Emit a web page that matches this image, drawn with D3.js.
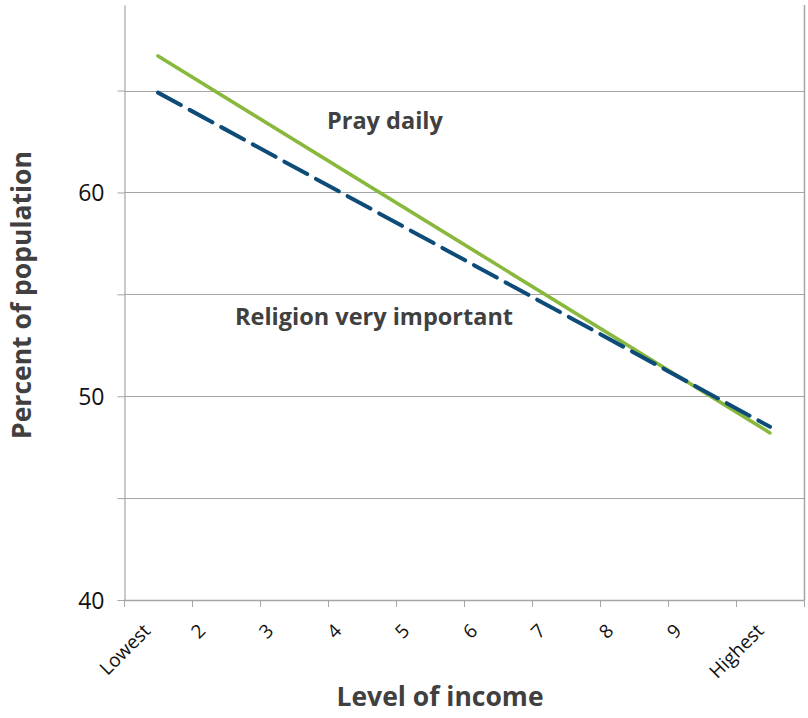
<!DOCTYPE html>
<html>
<head>
<meta charset="utf-8">
<script src="https://cdn.jsdelivr.net/npm/d3@7"></script>
<style>
  html, body { margin: 0; padding: 0; background: #ffffff; }
  svg { display: block; font-family: "Open Sans", "Noto Sans", sans-serif; }
</style>
</head>
<body>
<svg id="chart" width="808" height="718"></svg>
<script>
// Income deciles along the horizontal axis
const incomeLevels = ["Lowest", "2", "3", "4", "5", "6", "7", "8", "9", "Highest"];

// Linear trends, given at the two ends of the income scale (percent)
const trendEnds = ["Lowest", "Highest"];
const prayDaily = [66.7, 48.2];
const religionVeryImportant = [64.9, 48.5];

// Vertical axis: grid every 5 points, labels every 10
const gridValues = [40, 45, 50, 55, 60, 65];
const yTickLabels = [40, 50, 60];

const W = 808, H = 718;
const plot = { left: 124, right: 804, top: 5, bottom: 600 };

const svg = d3.select("#chart");
svg.append("rect").attr("width", W).attr("height", H).attr("fill", "#ffffff");

const x = d3.scaleBand().domain(incomeLevels).range([plot.left, plot.right]);
const cx = d => x(d) + x.bandwidth() / 2;
const y = d3.scaleLinear().domain([40, 69.2]).range([plot.bottom, plot.top]);

const gridColor = "#a5a5a5";

// Horizontal gridlines
svg.append("g")
  .selectAll("line")
  .data(gridValues.filter(v => v > 40))
  .join("line")
  .attr("x1", plot.left).attr("x2", plot.right)
  .attr("y1", d => Math.round(y(d)) + 0.5).attr("y2", d => Math.round(y(d)) + 0.5)
  .attr("stroke", gridColor).attr("stroke-width", 1);

// Right frame edge
svg.append("line")
  .attr("x1", plot.right + 0.5).attr("x2", plot.right + 0.5)
  .attr("y1", plot.top).attr("y2", plot.bottom)
  .attr("stroke", gridColor).attr("stroke-width", 1.5);

// Left axis
const yAxis = d3.axisLeft(y)
  .tickValues(gridValues)
  .tickSizeInner(7)
  .tickSizeOuter(0)
  .tickPadding(13)
  .tickFormat(d => yTickLabels.includes(d) ? String(d) : "");

const gy = svg.append("g")
  .attr("transform", `translate(${plot.left + 0.5},0)`)
  .call(yAxis);
gy.select(".domain").attr("stroke", gridColor).attr("stroke-width", 1.2);
gy.selectAll(".tick line").attr("stroke", gridColor);
gy.selectAll(".tick text")
  .attr("font-size", 23)
  .attr("fill", "#111111")
  .attr("font-family", "'Open Sans', sans-serif")
  .attr("dy", "0.36em");

// Bottom axis: baseline and ticks at the category boundaries
const gx = svg.append("g");
gx.append("line")
  .attr("x1", plot.left).attr("x2", plot.right)
  .attr("y1", plot.bottom + 0.5).attr("y2", plot.bottom + 0.5)
  .attr("stroke", gridColor).attr("stroke-width", 1.5);

const boundaries = incomeLevels.map(d => x(d)).concat([x.range()[1]]);
gx.selectAll("line.tick")
  .data(boundaries)
  .join("line")
  .attr("class", "tick")
  .attr("x1", d => Math.round(d) + 0.5).attr("x2", d => Math.round(d) + 0.5)
  .attr("y1", plot.bottom).attr("y2", plot.bottom + 7)
  .attr("stroke", gridColor).attr("stroke-width", 1);

// Slanted category labels
const labels = gx.selectAll("text.cat")
  .data(incomeLevels)
  .join("text")
  .attr("class", "cat")
  .attr("font-size", 19)
  .attr("fill", "#111111")
  .attr("text-anchor", "end")
  .text(d => d);

labels.each(function(d) {
  const len = this.getComputedTextLength();
  const ax = cx(d) - 22 + 0.25 * len;
  const ay = plot.bottom + 32;
  d3.select(this).attr("transform", `translate(${ax},${ay}) rotate(-45)`);
});

// Trend lines
const line = d3.line()
  .x(d => cx(d.level))
  .y(d => y(d.value));

const pairs = vals => trendEnds.map((lvl, i) => ({ level: lvl, value: vals[i] }));

svg.append("path")
  .datum(pairs(prayDaily))
  .attr("d", line)
  .attr("fill", "none")
  .attr("stroke", "#88b83c")
  .attr("stroke-width", 3.6)
  .attr("stroke-linecap", "round");

svg.append("path")
  .datum(pairs(religionVeryImportant))
  .attr("d", line)
  .attr("fill", "none")
  .attr("stroke", "#0d4b79")
  .attr("stroke-width", 4)
  .attr("stroke-linecap", "round")
  .attr("stroke-dasharray", "26 10");

// Series annotations
const noteColor = "#404040";
svg.append("text")
  .attr("x", 327).attr("y", 129)
  .attr("font-size", 23.5).attr("font-weight", 700)
  .attr("fill", noteColor)
  .text("Pray daily");

svg.append("text")
  .attr("x", 235).attr("y", 325)
  .attr("font-size", 23.5).attr("font-weight", 700)
  .attr("fill", noteColor)
  .text("Religion very important");

// Axis titles
svg.append("text")
  .attr("x", 440).attr("y", 706)
  .attr("text-anchor", "middle")
  .attr("font-size", 26.5).attr("font-weight", 700)
  .attr("fill", noteColor)
  .text("Level of income");

svg.append("text")
  .attr("transform", `translate(31,295) rotate(-90)`)
  .attr("text-anchor", "middle")
  .attr("font-size", 26.5).attr("font-weight", 700)
  .attr("fill", noteColor)
  .text("Percent of population");
</script>
</body>
</html>
